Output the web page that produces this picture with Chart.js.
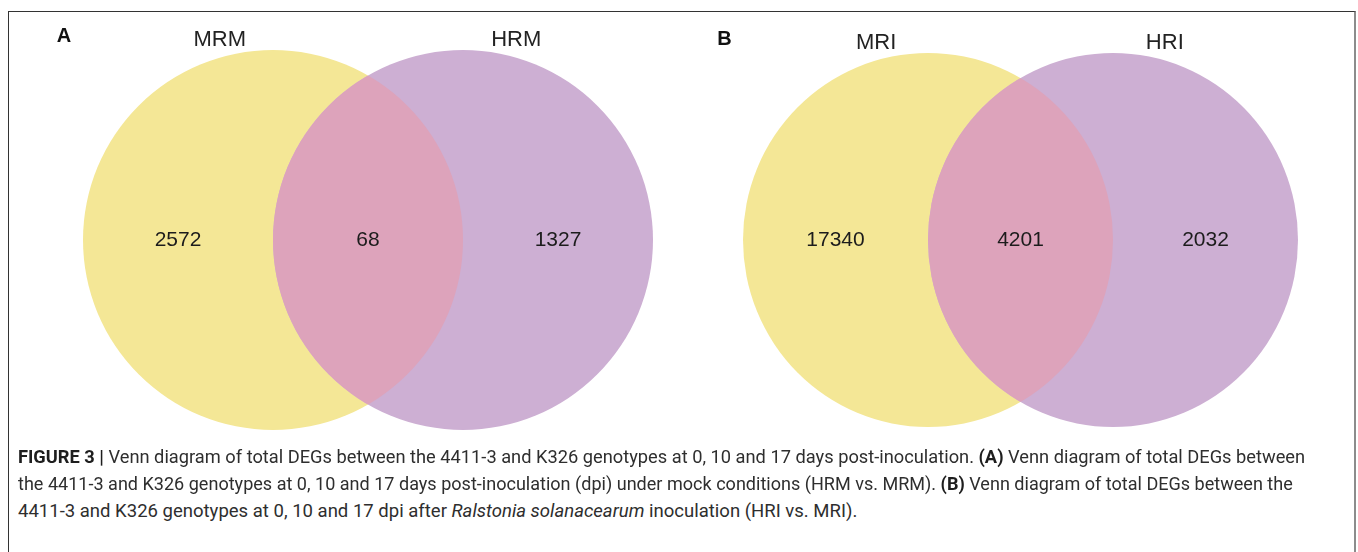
<!DOCTYPE html>
<html>
<head>
<meta charset="utf-8">
<script src="https://cdn.jsdelivr.net/npm/chart.js@4.4.1/dist/chart.umd.min.js"></script>
<style>
  html, body { margin: 0; padding: 0; background: #fff; width: 1358px; height: 552px; overflow: hidden; }
  #frame { position: absolute; left: 8px; top: 11px; width: 1345px; height: 600px;
           border-top: 1px solid #333; border-left: 1px solid #333; border-right: 2px solid #8c8c8c; }
  .panel { position: absolute; top: 0; }
  #caption { position: absolute; left: 18px; top: 0; font-family: "Liberation Sans Narrow", "Roboto", "Liberation Sans", sans-serif;
             font-size: 18.5px; color: #2e2e2e; }
  .line { position: absolute; left: 0; white-space: nowrap; transform-origin: 0 0; line-height: 20px; }
  .line b { font-weight: 700; color: #1e1e1e; }
</style>
</head>
<body>
<div id="frame"></div>
<canvas id="vennA" class="panel" width="679" height="460" style="left:0px"></canvas>
<canvas id="vennB" class="panel" width="679" height="460" style="left:679px"></canvas>
<div id="caption">
  <div class="line" data-w="1287" style="top:447px"><b>FIGURE 3 |</b> Venn diagram of total DEGs between the 4411-3 and K326 genotypes at 0, 10 and 17 days post-inoculation. <b>(A)</b> Venn diagram of total DEGs between</div>
  <div class="line" data-w="1275" style="top:474px">the 4411-3 and K326 genotypes at 0, 10 and 17 days post-inoculation (dpi) under mock conditions (HRM vs. MRM). <b>(B)</b> Venn diagram of total DEGs between the</div>
  <div class="line" data-w="839" style="top:501px">4411-3 and K326 genotypes at 0, 10 and 17 dpi after <i>Ralstonia solanacearum</i> inoculation (HRI vs. MRI).</div>
</div>
<script>
// Panel letters and set names
const panelLetters = ['A', 'B'];
const setNamesA = ['MRM', 'HRM'];
const setNamesB = ['MRI', 'HRI'];
// Region counts: [only first set, shared, only second set]
const countsA = [2572, 68, 1327];
const countsB = [17340, 4201, 2032];

// Two-set Venn geometry in unit coordinates: unit circles centred at x=0 and x=1
const regionX = [-0.5, 0.5, 1.5];
const nameX = [-0.28, 1.28];
const nameY = 1.055;
const letterPos = { x: -1.10, y: 1.07 };

const fills = { left: '#f4e796', right: '#cdafd3', both: '#dda3bb' };

// Pixel layout of each panel: first circle centre and radii inside its canvas
const layoutA = { w: 679, h: 460, cx: 273, cy: 240, rx: 190, ry: 190 };
const layoutB = { w: 679, h: 460, cx: 249, cy: 240, rx: 185, ry: 187 };

const vennPlugin = {
  id: 'venn',
  beforeDatasetsDraw(chart) {
    const { ctx, scales: { x, y } } = chart;
    const rx = x.getPixelForValue(1) - x.getPixelForValue(0);
    const ry = y.getPixelForValue(0) - y.getPixelForValue(1);
    const c0 = { x: x.getPixelForValue(0), y: y.getPixelForValue(0) };
    const c1 = { x: x.getPixelForValue(1), y: y.getPixelForValue(0) };
    const path = (c) => { ctx.beginPath(); ctx.ellipse(c.x, c.y, rx, ry, 0, 0, Math.PI * 2); };
    ctx.save();
    ctx.filter = 'blur(0.6px)';
    path(c0); ctx.fillStyle = fills.left; ctx.fill();
    path(c1); ctx.fillStyle = fills.right; ctx.fill();
    ctx.save();
    path(c0); ctx.clip();
    path(c1); ctx.fillStyle = fills.both; ctx.fill();
    ctx.restore();
    ctx.restore();
  },
  afterDatasetsDraw(chart, args, opts) {
    const { ctx, scales: { x, y } } = chart;
    ctx.save();
    ctx.textAlign = 'center';
    ctx.textBaseline = 'middle';
    // region counts
    ctx.fillStyle = '#1c1c1c';
    ctx.font = '21px "Liberation Sans", Arial, sans-serif';
    chart.data.datasets[0].data.forEach(p => {
      ctx.fillText(String(p.v), x.getPixelForValue(p.x), y.getPixelForValue(p.y));
    });
    // set names
    ctx.fillStyle = '#222';
    ctx.font = '22px "Liberation Sans", Arial, sans-serif';
    opts.names.forEach((n, i) => ctx.fillText(n, x.getPixelForValue(nameX[i]), y.getPixelForValue(nameY)));
    // panel letter
    ctx.fillStyle = '#111';
    ctx.font = 'bold 20px "Liberation Sans", Arial, sans-serif';
    ctx.fillText(opts.letter, x.getPixelForValue(letterPos.x), y.getPixelForValue(letterPos.y));
    ctx.restore();
  }
};

function makeVenn(id, names, counts, letter, L) {
  return new Chart(document.getElementById(id), {
    type: 'scatter',
    data: {
      datasets: [{
        data: counts.map((v, i) => ({ x: regionX[i], y: 0, v })),
        pointRadius: 0,
        pointHoverRadius: 0
      }]
    },
    options: {
      responsive: false,
      animation: false,
      devicePixelRatio: 1,
      layout: { padding: 0 },
      events: [],
      scales: {
        x: { type: 'linear', display: false, min: -L.cx / L.rx, max: (L.w - L.cx) / L.rx },
        y: { type: 'linear', display: false, min: (L.cy - L.h) / L.ry, max: L.cy / L.ry }
      },
      plugins: {
        legend: { display: false },
        tooltip: { enabled: false },
        venn: { names, letter }
      }
    },
    plugins: [vennPlugin]
  });
}

makeVenn('vennA', setNamesA, countsA, panelLetters[0], layoutA);
makeVenn('vennB', setNamesB, countsB, panelLetters[1], layoutB);

// Fit each caption line to its column width
document.querySelectorAll('#caption .line').forEach(el => {
  const target = +el.dataset.w;
  const w = el.scrollWidth;
  if (w > 0) el.style.transform = 'scaleX(' + (target / w) + ')';
});
</script>
</body>
</html>
